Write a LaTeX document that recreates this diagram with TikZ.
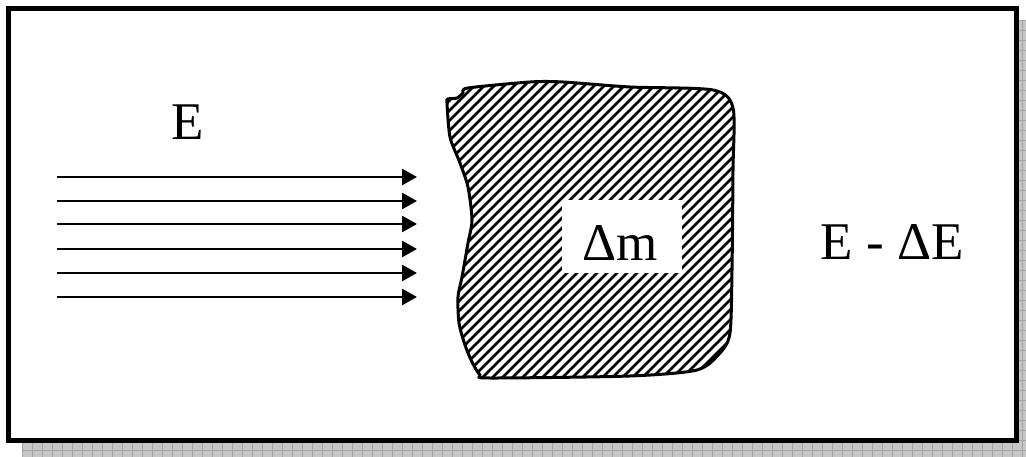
\documentclass[tikz,border=0pt]{standalone}
\usepackage{fontspec}
\setmainfont{Liberation Serif}
\usetikzlibrary{arrows.meta}

\definecolor{shadowfill}{HTML}{C6C6C6}
\definecolor{shadowgrid}{HTML}{A4A4A4}

\tikzset{
  frameline/.style={line width=5pt, draw=black, fill=white},
  beam/.style={line width=2.7pt, -{Triangle[length=15pt,width=16pt]}},
  outline/.style={line width=3pt, draw=black, line join=round},
  hatchline/.style={line width=2.5pt, black},
  bigtext/.style={font=\fontsize{53}{60}\selectfont, inner sep=0pt, anchor=base},
}

\begin{document}
\begin{tikzpicture}[x=1pt, y=-1pt]
  \useasboundingbox (0,0) rectangle (1026,457);

  % drop shadow with its halftone grid
  \fill[shadowfill] (22,20) rectangle (1026,457);
  \begin{scope}
    \clip (22,20) rectangle (1026,457);
    \foreach \gx in {0,...,103} \draw[shadowgrid, line width=0.8pt] ({22+10*\gx},20) -- ({22+10*\gx},457);
    \foreach \gy in {0,...,44} \draw[shadowgrid, line width=0.8pt] (22,{20+10*\gy}) -- (1026,{20+10*\gy});
  \end{scope}

  % main frame
  \draw[frameline] (8.5,8.5) rectangle (1016.5,440.5);

  % incident energy beam
  \foreach \k/\yy in {1/177,2/201,3/224,4/249,5/273,6/297} {
    \coordinate (s\k) at (57,\yy);
    \coordinate (t\k) at (417,\yy);
    \draw[beam] (s\k) -- (t\k);
  }

  % the absorbing body
  \def\blob{plot[smooth cycle, tension=0.45] coordinates {
    (448,99) (457,98) (463,93) (468,88) (530,82) (563,82) (630,87) (713,90)
    (733,108) (733,170) (732,270) (730,333) (720,353) (697,370) (630,376)
    (490,378) (480,375) (472,362) (465,345) (459,323) (458,297) (462,277) (468,243)
    (472,220) (468,187) (460,163) (450,137) (447,103)}}
  \begin{scope}
    \clip \blob;
    \fill[white] (430,70) rectangle (750,390);
    \foreach \k in {0,...,62} \draw[hatchline] ({110+10*\k},410) -- ++(360,-360);
  \end{scope}
  \draw[outline] \blob;

  % label patch inside the body
  \node[fill=white, minimum width=120pt, minimum height=73pt, inner sep=0pt] (patch) at (622,236.5) {};
  \node[bigtext] (dm) at (620,261) {Δm};

  % energy labels
  \node[bigtext] (ein) at (188,140) {E};
  \node[bigtext] (eout) at (892,260) {E - ΔE};
\end{tikzpicture}
\end{document}
